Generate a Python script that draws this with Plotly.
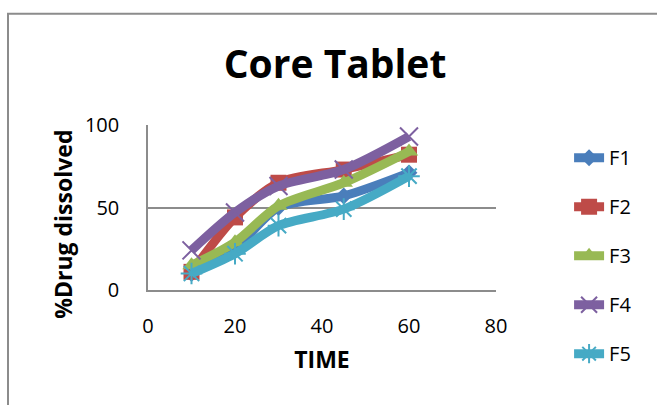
import plotly.graph_objects as go

# Dissolution time points (min)
time = [10, 20, 30, 45, 60]

# % drug dissolved for each formulation
f1 = [10, 25, 50, 57, 71]
f2 = [11, 44, 65, 73, 82]
f3 = [15, 29, 51, 65, 84]
f4 = [24, 47, 63, 73, 93]
f5 = [10, 22, 39, 49, 69]

names = ["F1", "F2", "F3", "F4", "F5"]
series = [f1, f2, f3, f4, f5]
colors = ["#4A7EBB", "#BE4B48", "#98B954", "#7D60A0", "#46AAC5"]
symbols = ["diamond", "square", "triangle-up", "x-thin-open", "asterisk-open"]
sizes = [13, 16, 16, 18, 18]

FONT = "Open Sans"

fig = go.Figure()
for name, ys, col, sym, sz in zip(names, series, colors, symbols, sizes):
    open_sym = sym.endswith("-open")
    fig.add_trace(go.Scatter(
        x=time, y=ys, name=name, legendgroup=name, mode="lines+markers",
        line=dict(color=col, width=9, shape="spline", smoothing=0.8),
        marker=dict(symbol=sym, size=sz, color=col,
                    line=dict(color=col, width=2 if open_sym else 0)),
    ))

fig.update_layout(
    width=657, height=405,
    margin=dict(l=148, r=161, t=124.5, b=115),
    paper_bgcolor="white", plot_bgcolor="white",
    font=dict(family=FONT, color="black"),
    title=dict(text="<b>Core Tablet</b>", x=0.51, xref="container",
               y=0.842, yanchor="middle", xanchor="center",
               font=dict(size=39, family=FONT, color="black")),
    xaxis=dict(range=[0, 80], tickvals=[0, 20, 40, 60, 80],
               showgrid=False, zeroline=False, showline=True,
               linecolor="#8c8c8c", linewidth=1.5, ticks="",
               tickfont=dict(size=20), ticklabelstandoff=17,
               title=dict(text="<b>TIME</b>", font=dict(size=23), standoff=14)),
    yaxis=dict(range=[0, 100], tickvals=[0, 50, 100],
               showgrid=True, gridcolor="#8c8c8c", gridwidth=1.5,
               zeroline=False, showline=True, linecolor="#8c8c8c",
               linewidth=1.5, ticks="", tickfont=dict(size=20),
               ticklabelstandoff=23),
    legend=dict(x=1.21, xanchor="left", y=0.208, yanchor="middle",
                font=dict(size=20), tracegroupgap=20, maxheight=400,
                bgcolor="rgba(0,0,0,0)"),
)

# Y-axis title, placed as in the original layout
fig.add_annotation(text="<b>%Drug dissolved</b>", textangle=-90,
                   xref="paper", yref="paper", x=-0.244, y=0.396,
                   xanchor="center", yanchor="middle", showarrow=False,
                   font=dict(size=23, family=FONT, color="black"))

# Outer chart frame
fig.add_shape(type="rect", xref="paper", yref="paper",
              x0=-0.4023, x1=1.9, y0=-1.0, y1=1.6737,
              line=dict(color="#8c8c8c", width=2), layer="below")

fig.write_html("out.html")
